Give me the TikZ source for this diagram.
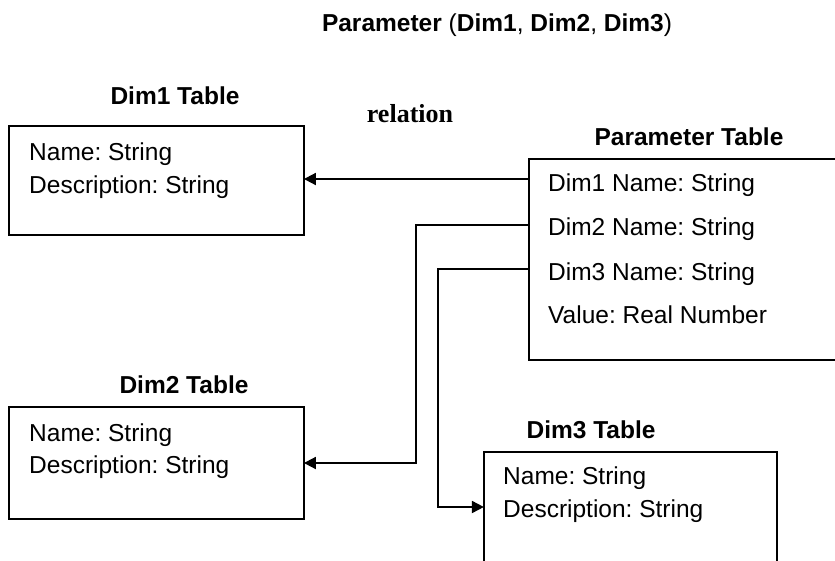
\documentclass[tikz,border=0pt]{standalone}
\usepackage{fontspec}
\setmainfont{Liberation Sans}
\newfontfamily\relfont{Liberation Serif}
\usetikzlibrary{arrows.meta}
\frenchspacing
\tikzset{
  tbox/.style={draw=black, line width=1.8pt, rectangle, inner sep=0pt, anchor=north west},
  ttl/.style={inner sep=0pt, anchor=base, font=\fontsize{24.5}{29}\selectfont\bfseries},
  row/.style={inner sep=0pt, anchor=base west, font=\fontsize{24.5}{29}\selectfont},
  rel/.style={inner sep=0pt, anchor=base, font=\fontsize{26}{30}\selectfont\relfont\bfseries},
  conn/.style={draw=black, line width=1.8pt},
  arr/.style={conn, -{Triangle[length=12pt,width=12pt]}, shorten >=-0.9pt}
}
\begin{document}
\begin{tikzpicture}[x=1pt, y=-1pt]
\useasboundingbox (0,0) rectangle (835,560);
\clip (0,0) rectangle (835,560);

% headings
\node[ttl] (title) at (497,31) {\frenchspacing Parameter \mdseries(\bfseries Dim1\mdseries, \bfseries Dim2\mdseries, \bfseries Dim3\mdseries)};
\node[ttl] (t1) at (175,104) {Dim1 Table};
\node[rel] (relation) at (410,122) {relation};
\node[ttl] (tp) at (689,145) {Parameter Table};
\node[ttl] (t2) at (184,393) {Dim2 Table};
\node[ttl] (t3) at (591,438) {Dim3 Table};

% boxes
\node[tbox, minimum width=295pt, minimum height=109pt] (dim1) at (8,125) {};
\node[tbox, minimum width=295pt, minimum height=112pt] (dim2) at (8,406) {};
\node[tbox, minimum width=293pt, minimum height=120pt] (dim3) at (483,451) {};
\node[tbox, minimum width=320pt, minimum height=201pt] (param) at (528,158) {};

% box contents
\node[row] (d1a) at (29,160) {\frenchspacing Name: String};
\node[row] (d1b) at (29,193) {\frenchspacing Description: String};
\node[row] (d2a) at (29,441) {\frenchspacing Name: String};
\node[row] (d2b) at (29,473) {\frenchspacing Description: String};
\node[row] (d3a) at (503,484) {\frenchspacing Name: String};
\node[row] (d3b) at (503,517) {\frenchspacing Description: String};
\node[row] (p1) at (548,191) {\frenchspacing Dim1 Name: String};
\node[row] (p2) at (548,235) {\frenchspacing Dim2 Name: String};
\node[row] (p3) at (548,280) {\frenchspacing Dim3 Name: String};
\node[row] (p4) at (548,323) {\frenchspacing Value: Real Number};

% connector levels
\coordinate (y1) at (0,179);
\coordinate (y2) at (0,225);
\coordinate (y3) at (0,269);
\coordinate (k2) at (416,463);
\coordinate (k3) at (438,507);

\draw[arr] (param.west |- y1) -- (dim1.east |- y1);
\draw[arr] (param.west |- y2) -- (k2 |- y2) -- (k2) -- (dim2.east |- k2);
\draw[arr] (param.west |- y3) -- (k3 |- y3) -- (k3) -- (dim3.west |- k3);
\end{tikzpicture}
\end{document}
